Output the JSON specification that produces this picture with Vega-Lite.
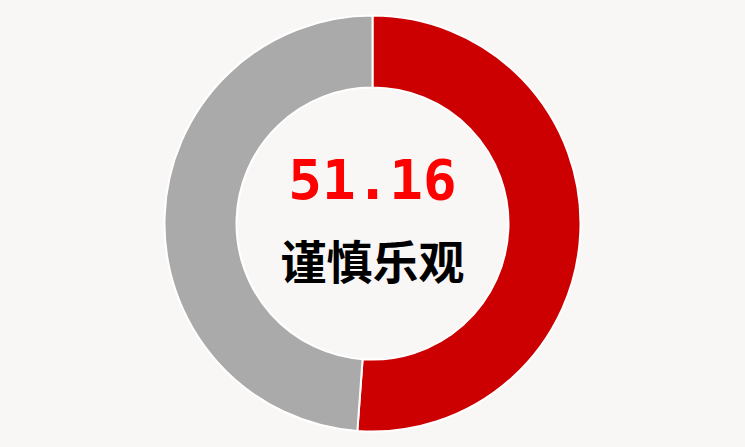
{
  "$schema": "https://vega.github.io/schema/vega-lite/v6.json",
  "autosize": {"type": "fit", "contains": "padding"},
  "width": 745,
  "height": 447,
  "padding": 0,
  "background": "#f9f6f6",
  "config": {"view": {"stroke": null}},
  "layer": [
    {
      "data": {"values": [
        {"category": "score", "value": 51.16, "order": 1},
        {"category": "rest", "value": 48.84, "order": 2}
      ]},
      "mark": {"type": "arc", "outerRadius": 208, "innerRadius": 136, "stroke": "#ffffff", "strokeWidth": 2},
      "encoding": {
        "theta": {"field": "value", "type": "quantitative", "stack": true},
        "order": {"field": "order", "type": "quantitative"},
        "color": {"field": "category", "type": "nominal", "scale": {"domain": ["score", "rest"], "range": ["#cc0000", "#aaaaaa"]}, "legend": null}
      }
    },
    {
      "data": {"values": [{"label": "51.16"}]},
      "mark": {"type": "text", "font": "DejaVu Sans Mono", "fontWeight": "bold", "fontSize": 56, "color": "#ff0000", "baseline": "middle", "align": "center", "dy": -42},
      "encoding": {"text": {"field": "label", "type": "nominal"}}
    },
    {
      "data": {"values": [{"label": "谨慎乐观"}]},
      "mark": {"type": "text", "font": "Noto Sans CJK SC", "fontWeight": "bold", "fontSize": 46, "color": "#000000", "baseline": "middle", "align": "center", "dy": 41},
      "encoding": {"text": {"field": "label", "type": "nominal"}}
    }
  ]
}
